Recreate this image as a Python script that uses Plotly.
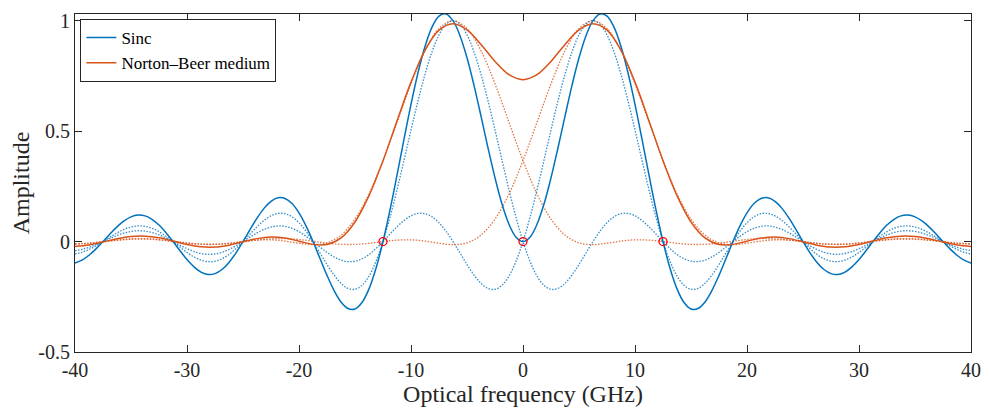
import plotly.graph_objects as go

# Fine optical frequency grid for the sinc curves (GHz)
freq_fine = [-40.0, -39.375, -38.75, -38.125, -37.5, -36.875, -36.25, -35.625, -35.0, -34.375,
             -33.75, -33.125, -32.5, -31.875, -31.25, -30.625, -30.0, -29.375, -28.75, -28.125,
             -27.5, -26.875, -26.25, -25.625, -25.0, -24.375, -23.75, -23.125, -22.5, -21.875,
             -21.25, -20.625, -20.0, -19.375, -18.75, -18.125, -17.5, -16.875, -16.25, -15.625,
             -15.0, -14.375, -13.75, -13.125, -12.5, -11.875, -11.25, -10.625, -10.0, -9.375,
             -8.75, -8.125, -7.5, -6.875, -6.25, -5.625, -5.0, -4.375, -3.75, -3.125,
             -2.5, -1.875, -1.25, -0.625, 0.0, 0.625, 1.25, 1.875, 2.5, 3.125,
             3.75, 4.375, 5.0, 5.625, 6.25, 6.875, 7.5, 8.125, 8.75, 9.375,
             10.0, 10.625, 11.25, 11.875, 12.5, 13.125, 13.75, 14.375, 15.0, 15.625,
             16.25, 16.875, 17.5, 18.125, 18.75, 19.375, 20.0, 20.625, 21.25, 21.875,
             22.5, 23.125, 23.75, 24.375, 25.0, 25.625, 26.25, 26.875, 27.5, 28.125,
             28.75, 29.375, 30.0, 30.625, 31.25, 31.875, 32.5, 33.125, 33.75, 34.375,
             35.0, 35.625, 36.25, 36.875, 37.5, 38.125, 38.75, 39.375, 40.0]

# Sinc line centred at -6.25 GHz (dotted)
sinc_left = [-0.0561, -0.0486, -0.0360, -0.0193, 0.0, 0.0201, 0.0390, 0.0548, 0.0658, 0.0707,
             0.0688, 0.0599, 0.0445, 0.0240, 0.0, -0.0252, -0.0492, -0.0696, -0.0841, -0.0909,
             -0.0890, -0.0780, -0.0585, -0.0317, 0.0, 0.0339, 0.0668, 0.0954, 0.1164, 0.1273,
             0.1261, 0.1120, 0.0850, 0.0468, 0.0, -0.0518, -0.1039, -0.1515, -0.1892, -0.2122,
             -0.2162, -0.1981, -0.1559, -0.0894, 0.0, 0.1093, 0.2339, 0.3679, 0.5046, 0.6366,
             0.7568, 0.8584, 0.9355, 0.9836,
             1.0, 0.9836, 0.9355, 0.8584, 0.7568, 0.6366, 0.5046, 0.3679, 0.2339, 0.1093,
             0.0, -0.0894, -0.1559, -0.1981, -0.2162, -0.2122, -0.1892, -0.1515, -0.1039, -0.0518,
             0.0, 0.0468, 0.0850, 0.1120, 0.1261, 0.1273, 0.1164, 0.0954, 0.0668, 0.0339,
             0.0, -0.0317, -0.0585, -0.0780, -0.0890, -0.0909, -0.0841, -0.0696, -0.0492, -0.0252,
             0.0, 0.0240, 0.0445, 0.0599, 0.0688, 0.0707, 0.0658, 0.0548, 0.0390, 0.0201,
             0.0, -0.0193, -0.0360, -0.0486, -0.0561, -0.0579, -0.0541, -0.0452, -0.0323, -0.0167,
             0.0, 0.0161, 0.0302, 0.0409, 0.0473, 0.0490, 0.0459, 0.0384, 0.0275, 0.0143,
             0.0, -0.0139, -0.0260, -0.0353, -0.0409]

# Sinc line centred at +6.25 GHz (dotted)
sinc_right = [-0.0409, -0.0353, -0.0260, -0.0139, 0.0,
              0.0143, 0.0275, 0.0384, 0.0459, 0.0490, 0.0473, 0.0409, 0.0302, 0.0161, 0.0,
              -0.0167, -0.0323, -0.0452, -0.0541, -0.0579, -0.0561, -0.0486, -0.0360, -0.0193, 0.0,
              0.0201, 0.0390, 0.0548, 0.0658, 0.0707, 0.0688, 0.0599, 0.0445, 0.0240, 0.0,
              -0.0252, -0.0492, -0.0696, -0.0841, -0.0909, -0.0890, -0.0780, -0.0585, -0.0317, 0.0,
              0.0339, 0.0668, 0.0954, 0.1164, 0.1273, 0.1261, 0.1120, 0.0850, 0.0468, 0.0,
              -0.0518, -0.1039, -0.1515, -0.1892, -0.2122, -0.2162, -0.1981, -0.1559, -0.0894, 0.0,
              0.1093, 0.2339, 0.3679, 0.5046, 0.6366, 0.7568, 0.8584, 0.9355, 0.9836, 1.0,
              0.9836, 0.9355, 0.8584, 0.7568, 0.6366, 0.5046, 0.3679, 0.2339, 0.1093, 0.0,
              -0.0894, -0.1559, -0.1981, -0.2162, -0.2122, -0.1892, -0.1515, -0.1039, -0.0518, 0.0,
              0.0468, 0.0850, 0.1120, 0.1261, 0.1273, 0.1164, 0.0954, 0.0668, 0.0339, 0.0,
              -0.0317, -0.0585, -0.0780, -0.0890, -0.0909, -0.0841, -0.0696, -0.0492, -0.0252, 0.0,
              0.0240, 0.0445, 0.0599, 0.0688, 0.0707, 0.0658, 0.0548, 0.0390, 0.0201, 0.0,
              -0.0193, -0.0360, -0.0486, -0.0561]

# Sum of the sinc lines (solid)
sinc_total = [-0.0970, -0.0839, -0.0620, -0.0332, 0.0, 0.0344, 0.0665, 0.0932, 0.1117, 0.1197,
              0.1161, 0.1008, 0.0747, 0.0401, 0.0, -0.0419, -0.0815, -0.1148, -0.1382, -0.1488,
              -0.1451, -0.1266, -0.0945, -0.0510, 0.0, 0.0540, 0.1058, 0.1502, 0.1822, 0.1980,
              0.1949, 0.1719, 0.1295, 0.0708, 0.0, -0.0770, -0.1531, -0.2211, -0.2733, -0.3031,
              -0.3052, -0.2761, -0.2144, -0.1211, 0.0, 0.1432, 0.3007, 0.4633, 0.6210, 0.7639,
              0.8829, 0.9704, 1.0205, 1.0304, 1.0, 0.9318, 0.8316, 0.7069, 0.5676, 0.4244,
              0.2884, 0.1698, 0.0780, 0.0199,
              0.0,
              0.0199, 0.0780, 0.1698, 0.2884, 0.4244, 0.5676, 0.7069, 0.8316, 0.9318, 1.0,
              1.0304, 1.0205, 0.9704, 0.8829, 0.7639, 0.6210, 0.4633, 0.3007, 0.1432, 0.0,
              -0.1211, -0.2144, -0.2761, -0.3052, -0.3031, -0.2733, -0.2211, -0.1531, -0.0770, 0.0,
              0.0708, 0.1295, 0.1719, 0.1949, 0.1980, 0.1822, 0.1502, 0.1058, 0.0540, 0.0,
              -0.0510, -0.0945, -0.1266, -0.1451, -0.1488, -0.1382, -0.1148, -0.0815, -0.0419, 0.0,
              0.0401, 0.0747, 0.1008, 0.1161, 0.1197, 0.1117, 0.0932, 0.0665, 0.0344, 0.0,
              -0.0332, -0.0620, -0.0839, -0.0970]

# Coarser grid for the Norton-Beer curves (GHz)
freq_nb = [-40.0, -38.75, -37.5, -36.25, -35.0, -33.75, -32.5, -31.25, -30.0, -28.75,
           -27.5, -26.25, -25.0, -23.75, -22.5, -21.25, -20.0, -18.75, -17.5, -16.25,
           -15.0, -13.75, -12.5, -11.25, -10.0, -8.75, -7.5, -6.25, -5.0, -3.75,
           -2.5, -1.25, 0.0, 1.25, 2.5, 3.75, 5.0, 6.25, 7.5, 8.75,
           10.0, 11.25, 12.5, 13.75, 15.0, 16.25, 17.5, 18.75, 20.0, 21.25,
           22.5, 23.75, 25.0, 26.25, 27.5, 28.75, 30.0, 31.25, 32.5, 33.75,
           35.0, 36.25, 37.5, 38.75, 40.0]

# Norton-Beer medium line centred at -6.25 GHz (dotted)
nb_left = [-0.0122, -0.0085, -0.0012, 0.0068, 0.0124, 0.0134, 0.0092, 0.0013, -0.0071, -0.0126,
           -0.0129, -0.0079, -0.0001, 0.0064, 0.0077, 0.0022, -0.0075, -0.0141, -0.0061, 0.0291,
           0.1016, 0.2156, 0.3663, 0.5397, 0.7138, 0.8633, 0.9643, 1.0, 0.9643, 0.8633,
           0.7138, 0.5397, 0.3663, 0.2156, 0.1016, 0.0291, -0.0061, -0.0141, -0.0075, 0.0022,
           0.0077, 0.0064, -0.0001, -0.0079, -0.0129, -0.0126, -0.0071, 0.0013, 0.0092, 0.0134,
           0.0124, 0.0068, -0.0012, -0.0085, -0.0122, -0.0113, -0.0062, 0.0010, 0.0075, 0.0110,
           0.0102, 0.0057, -0.0008, -0.0067, -0.0098]

# Norton-Beer medium line centred at +6.25 GHz (dotted)
nb_right = [-0.0098, -0.0067, -0.0008, 0.0057, 0.0102, 0.0110, 0.0075, 0.0010, -0.0062, -0.0113,
            -0.0122, -0.0085, -0.0012, 0.0068, 0.0124, 0.0134, 0.0092, 0.0013, -0.0071, -0.0126,
            -0.0129, -0.0079, -0.0001, 0.0064, 0.0077, 0.0022, -0.0075, -0.0141, -0.0061, 0.0291,
            0.1016, 0.2156, 0.3663, 0.5397, 0.7138, 0.8633, 0.9643, 1.0, 0.9643, 0.8633,
            0.7138, 0.5397, 0.3663, 0.2156, 0.1016, 0.0291, -0.0061, -0.0141, -0.0075, 0.0022,
            0.0077, 0.0064, -0.0001, -0.0079, -0.0129, -0.0126, -0.0071, 0.0013, 0.0092, 0.0134,
            0.0124, 0.0068, -0.0012, -0.0085, -0.0122]

# Sum of the Norton-Beer lines (solid)
nb_total = [-0.0220, -0.0152, -0.0020, 0.0125, 0.0226, 0.0244, 0.0167, 0.0023, -0.0133, -0.0239,
            -0.0251, -0.0164, -0.0013, 0.0132, 0.0201, 0.0156, 0.0017, -0.0128, -0.0132, 0.0165,
            0.0887, 0.2077, 0.3662, 0.5461, 0.7215, 0.8655, 0.9568, 0.9859, 0.9582, 0.8924,
            0.8154, 0.7553, 0.7326, 0.7553, 0.8154, 0.8924, 0.9582, 0.9859, 0.9568, 0.8655,
            0.7215, 0.5461, 0.3662, 0.2077, 0.0887, 0.0165, -0.0132, -0.0128, 0.0017, 0.0156,
            0.0201, 0.0132, -0.0013, -0.0164, -0.0251, -0.0239, -0.0133, 0.0023, 0.0167, 0.0244,
            0.0226, 0.0125, -0.0020, -0.0152, -0.0220]

# Sampling points (red circles)
marker_f = [-12.5, 0.0, 12.5]
marker_a = [0.0, 0.0, 0.0]

x_ticks = [-40, -30, -20, -10, 0, 10, 20, 30, 40]
x_tick_text = ["-40", "-30", "-20", "-10", "0", "10", "20", "30", "40"]
y_ticks = [-0.5, 0, 0.5, 1]
y_tick_text = ["-0.5", "0", "0.5", "1"]

BLUE = "#0072BD"
ORANGE = "#D95319"
FONT = "Liberation Serif"

fig = go.Figure()

for ys in (sinc_left, sinc_right):
    fig.add_trace(go.Scatter(x=freq_fine, y=ys, mode="lines", showlegend=False,
                             line=dict(color=BLUE, width=1.3, dash="1.5px,1.5px", shape="spline", smoothing=1.0),
                             opacity=0.8, hoverinfo="skip"))
for ys in (nb_left, nb_right):
    fig.add_trace(go.Scatter(x=freq_nb, y=ys, mode="lines", showlegend=False,
                             line=dict(color=ORANGE, width=1.3, dash="1.5px,1.5px", shape="spline", smoothing=1.0),
                             opacity=0.8, hoverinfo="skip"))

fig.add_trace(go.Scatter(x=freq_fine, y=sinc_total, mode="lines", name="Sinc",
                         line=dict(color=BLUE, width=1.5, shape="spline", smoothing=1.0)))
fig.add_trace(go.Scatter(x=freq_nb, y=nb_total, mode="lines", name="Norton\u2013Beer medium",
                         line=dict(color=ORANGE, width=1.5, shape="spline", smoothing=1.0)))

fig.add_trace(go.Scatter(x=marker_f, y=marker_a, mode="markers", showlegend=False,
                         marker=dict(symbol="circle-open", size=8, color="#FF0000",
                                     line=dict(width=1.3, color="#FF0000"))))

axis_common = dict(showline=True, linecolor="#262626", linewidth=1, mirror="ticks",
                   ticks="inside", ticklen=7, tickcolor="#262626", tickwidth=1,
                   showgrid=False, zeroline=False, ticklabeloverflow="allow",
                   tickfont=dict(family=FONT, size=20, color="#262626"))

# The page body adds an 8 px offset, so the figure is sized to fit the 989x411 window.
fig.update_layout(
    width=981, height=403,
    margin=dict(l=67, r=18, t=2, b=59),
    paper_bgcolor="white", plot_bgcolor="white",
    font=dict(family=FONT, color="#262626"),
    xaxis=dict(range=[-40, 40], tickvals=x_ticks, ticktext=x_tick_text,
               title=dict(text="Optical frequency (GHz)", font=dict(family=FONT, size=24), standoff=4),
               **axis_common),
    yaxis=dict(range=[-0.5, 1.03], tickvals=y_ticks, ticktext=y_tick_text,
               title=dict(text="Amplitude", font=dict(family=FONT, size=24), standoff=6),
               **axis_common),
    legend=dict(x=0.006, y=0.985, xanchor="left", yanchor="top",
                bgcolor="white", bordercolor="#262626", borderwidth=1,
                font=dict(family=FONT, size=17, color="#000000"),
                tracegroupgap=0, itemwidth=30),
    showlegend=True,
)

fig.write_html("out.html")
